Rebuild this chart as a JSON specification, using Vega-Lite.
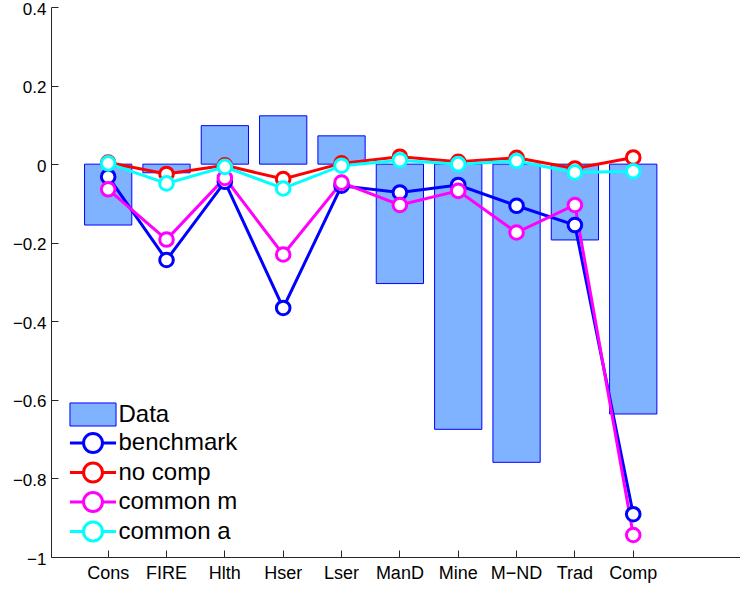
{
  "$schema": "https://vega.github.io/schema/vega-lite/v6.json",
  "width": 689,
  "height": 550,
  "autosize": "none",
  "padding": {"left": 51, "top": 7, "right": 0, "bottom": 33},
  "config": {
    "font": "Liberation Sans",
    "view": {"stroke": null},
    "legend": {
      "orient": "none", "legendX": 17, "legendY": 395,
      "symbolSize": 576, "symbolOffset": 11.5, "labelFontSize": 24, "labelOffset": 12,
      "rowPadding": -1.5, "padding": 0, "symbolStrokeWidth": 3, "symbolOpacity": 1,
      "labelColor": "black", "labelLimit": 300
    }
  },
  "datasets": {
    "all": [
      {"cat": "Cons", "series": "Data", "value": -0.155},
      {"cat": "FIRE", "series": "Data", "value": -0.022},
      {"cat": "Hlth", "series": "Data", "value": 0.098},
      {"cat": "Hser", "series": "Data", "value": 0.123},
      {"cat": "Lser", "series": "Data", "value": 0.072},
      {"cat": "ManD", "series": "Data", "value": -0.304},
      {"cat": "Mine", "series": "Data", "value": -0.675},
      {"cat": "M−ND", "series": "Data", "value": -0.759},
      {"cat": "Trad", "series": "Data", "value": -0.193},
      {"cat": "Comp", "series": "Data", "value": -0.636},

      {"cat": "Cons", "series": "benchmark", "value": -0.032},
      {"cat": "FIRE", "series": "benchmark", "value": -0.244},
      {"cat": "Hlth", "series": "benchmark", "value": -0.045},
      {"cat": "Hser", "series": "benchmark", "value": -0.366},
      {"cat": "Lser", "series": "benchmark", "value": -0.055},
      {"cat": "ManD", "series": "benchmark", "value": -0.072},
      {"cat": "Mine", "series": "benchmark", "value": -0.053},
      {"cat": "M−ND", "series": "benchmark", "value": -0.106},
      {"cat": "Trad", "series": "benchmark", "value": -0.155},
      {"cat": "Comp", "series": "benchmark", "value": -0.891},

      {"cat": "Cons", "series": "no comp", "value": 0.004},
      {"cat": "FIRE", "series": "no comp", "value": -0.025},
      {"cat": "Hlth", "series": "no comp", "value": -0.003},
      {"cat": "Hser", "series": "no comp", "value": -0.038},
      {"cat": "Lser", "series": "no comp", "value": 0.002},
      {"cat": "ManD", "series": "no comp", "value": 0.019},
      {"cat": "Mine", "series": "no comp", "value": 0.006},
      {"cat": "M−ND", "series": "no comp", "value": 0.016},
      {"cat": "Trad", "series": "no comp", "value": -0.011},
      {"cat": "Comp", "series": "no comp", "value": 0.017},

      {"cat": "Cons", "series": "common m", "value": -0.064},
      {"cat": "FIRE", "series": "common m", "value": -0.192},
      {"cat": "Hlth", "series": "common m", "value": -0.035},
      {"cat": "Hser", "series": "common m", "value": -0.230},
      {"cat": "Lser", "series": "common m", "value": -0.047},
      {"cat": "ManD", "series": "common m", "value": -0.104},
      {"cat": "Mine", "series": "common m", "value": -0.068},
      {"cat": "M−ND", "series": "common m", "value": -0.174},
      {"cat": "Trad", "series": "common m", "value": -0.104},
      {"cat": "Comp", "series": "common m", "value": -0.944},

      {"cat": "Cons", "series": "common a", "value": 0.002},
      {"cat": "FIRE", "series": "common a", "value": -0.049},
      {"cat": "Hlth", "series": "common a", "value": -0.007},
      {"cat": "Hser", "series": "common a", "value": -0.062},
      {"cat": "Lser", "series": "common a", "value": -0.004},
      {"cat": "ManD", "series": "common a", "value": 0.010},
      {"cat": "Mine", "series": "common a", "value": 0.0},
      {"cat": "M−ND", "series": "common a", "value": 0.008},
      {"cat": "Trad", "series": "common a", "value": -0.021},
      {"cat": "Comp", "series": "common a", "value": -0.018}
    ]
  },
  "encoding": {
    "x": {
      "field": "cat", "type": "nominal", "sort": null,
      "scale": {"type": "band", "paddingInner": 0.19, "paddingOuter": 1.0345, "align": 0.2875},
      "axis": {"title": null, "labelAngle": 0, "labelFontSize": 18, "labelColor": "black", "domainColor": "#262626", "tickColor": "#262626", "tickSize": -7, "labelPadding": 14, "grid": false}
    },
    "y": {
      "field": "value", "type": "quantitative",
      "scale": {"domain": [-1, 0.4], "nice": false, "zero": false},
      "axis": {"title": null, "values": [-1, -0.8, -0.6, -0.4, -0.2, 0, 0.2, 0.4], "format": ".1~f", "labelExpr": "replace(datum.label, '-', '\u2212')", "labelFontSize": 17, "labelOffset": 2, "labelColor": "black", "domainColor": "#262626", "tickColor": "#262626", "tickSize": -7, "labelPadding": 12, "grid": false}
    }
  },
  "layer": [
    {
      "data": {"name": "all"},
      "mark": {"type": "point", "opacity": 0, "filled": true},
      "encoding": {
        "stroke": {
          "field": "series", "type": "nominal", "title": null,
          "scale": {"domain": ["Data", "benchmark", "no comp", "common m", "common a"], "range": ["#0000ff", "#0000ff", "#ff0000", "#ff00ff", "#00ffff"]}
        },
        "fill": {
          "field": "series", "type": "nominal", "title": null,
          "scale": {"domain": ["Data", "benchmark", "no comp", "common m", "common a"], "range": ["#80b3ff", "#ffffff", "#ffffff", "#ffffff", "#ffffff"]}
        },
        "strokeWidth": {
          "field": "series", "type": "nominal", "title": null,
          "scale": {"type": "ordinal", "domain": ["Data", "benchmark", "no comp", "common m", "common a"], "range": [1, 3, 3, 3, 3]}
        },
        "shape": {
          "field": "series", "type": "nominal", "title": null,
          "scale": {"domain": ["Data", "benchmark", "no comp", "common m", "common a"], "range": [
            "M-1.92,-0.96H1.92V0.96H-1.92Z",
            "M-1.92,0H-0.79M0.79,0H1.92M0.79,0A0.79,0.79 0 1 1 -0.79,0A0.79,0.79 0 1 1 0.79,0Z",
            "M-1.92,0H-0.79M0.79,0H1.92M0.79,0A0.79,0.79 0 1 1 -0.79,0A0.79,0.79 0 1 1 0.79,0Z",
            "M-1.92,0H-0.79M0.79,0H1.92M0.79,0A0.79,0.79 0 1 1 -0.79,0A0.79,0.79 0 1 1 0.79,0Z",
            "M-1.92,0H-0.79M0.79,0H1.92M0.79,0A0.79,0.79 0 1 1 -0.79,0A0.79,0.79 0 1 1 0.79,0Z"
          ]}
        }
      }
    },
    {
      "data": {"name": "all"},
      "transform": [{"filter": "datum.series === 'Data'"}],
      "mark": {"type": "bar", "fill": "#80b3ff", "fillOpacity": 1, "strokeWidth": 1},
      "encoding": {"stroke": {"field": "series", "type": "nominal", "title": null}}
    },
    {
      "data": {"values": [{}]},
      "mark": {"type": "rule", "color": "black", "strokeWidth": 1},
      "encoding": {"y": {"datum": 0}, "x": null}
    },
    {
      "data": {"name": "all"},
      "transform": [{"filter": "datum.series !== 'Data'"}],
      "mark": {"type": "line", "strokeWidth": 3},
      "encoding": {"stroke": {"field": "series", "type": "nominal", "title": null}}
    },
    {
      "data": {"name": "all"},
      "transform": [{"filter": "datum.series !== 'Data'"}],
      "mark": {"type": "point", "shape": "circle", "filled": true, "fill": "white", "fillOpacity": 1, "opacity": 1, "size": 185, "strokeWidth": 3},
      "encoding": {"stroke": {"field": "series", "type": "nominal", "title": null}}
    }
  ]
}
